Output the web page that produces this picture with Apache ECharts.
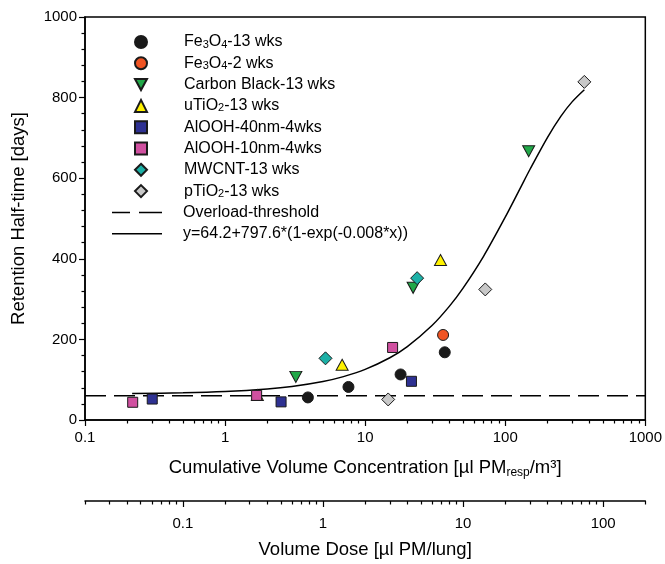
<!DOCTYPE html>
<html><head><meta charset="utf-8">
<script src="https://cdn.jsdelivr.net/npm/echarts@6/dist/echarts.min.js"></script>
<style>html,body{margin:0;padding:0;background:#fff}#c{width:665px;height:564px}</style>
</head><body><div id="c"></div>
<script>
// ---- data (x: cumulative volume concentration, y: retention half-time) ----
const fe3o4_13 = [[3.9,56],[7.6,82],[17.9,113],[37,168]];
const fe3o4_2 = [[36,211]];
const carbonBlack = [[3.2,107],[22,328],[147,667]];
const uTiO2 = [[1.7,62],[6.85,137],[34.5,397]];
const alooh40 = [[0.302,52],[2.51,45],[21.4,96]];
const alooh10 = [[0.219,44],[1.68,61],[15.7,180]];
const mwcnt = [[5.21,153],[23.5,352]];
const pTiO2 = [[14.6,51],[72,324],[367,839]];
const thresholdX = [0.1, 1000];
const thresholdY = [60, 60];
const fitX = [0.217,0.5,1,2,3,5,7,10,15,20,30,40,50,70,100,130,150,200,250,300,367];
const fitY = [65.6,67.4,70.6,76.9,83.1,95.5,107.6,125.5,154.4,182.1,234.4,282.6,327.2,406.2,503.4,579.9,621.6,700.8,753.9,789.4,819.5];
const xMajor = [0.1,1,10,100,1000];
const xMinor = [0.2,0.3,0.4,0.5,0.6,0.7,0.8,0.9,2,3,4,5,6,7,8,9,20,30,40,50,60,70,80,90,200,300,400,500,600,700,800,900];
const doseMajor = [0.1,1,10,100];
const doseMinor = [0.02,0.03,0.04,0.05,0.06,0.07,0.08,0.09,0.2,0.3,0.4,0.5,0.6,0.7,0.8,0.9,2,3,4,5,6,7,8,9,20,30,40,50,60,70,80,90,200];

const FONT = 'Liberation Sans, Arial, sans-serif';
const triDown = 'path://M0,0L12,0L6,11Z';
const dashIcon = 'path://M0,0H18V1.5H0Z M27,0H50V1.5H27Z';
const solidIcon = 'path://M0,0H50V1.5H0Z';
const legendRich = {
  n: {fontSize: 16, fontFamily: FONT, color: '#000', lineHeight: 16, verticalAlign: 'bottom'},
  s: {fontSize: 11, fontFamily: FONT, color: '#000', lineHeight: 2, verticalAlign: 'bottom'}
};
const legendLabels = {
  'Fe3O4-13 wks': '{n|Fe}{s|3}{n|O}{s|4}{n|-13 wks}',
  'Fe3O4-2 wks': '{n|Fe}{s|3}{n|O}{s|4}{n|-2 wks}',
  'Carbon Black-13 wks': '{n|Carbon Black-13 wks}',
  'uTiO2-13 wks': '{n|uTiO}{s|2}{n|-13 wks}',
  'AlOOH-40nm-4wks': '{n|AlOOH-40nm-4wks}',
  'AlOOH-10nm-4wks': '{n|AlOOH-10nm-4wks}',
  'MWCNT-13 wks': '{n|MWCNT-13 wks}',
  'pTiO2-13 wks': '{n|pTiO}{s|2}{n|-13 wks}',
  'Overload-threshold': '{n|Overload-threshold}',
  'y=64.2+797.6*(1-exp(-0.008*x))': '{n|y=64.2+797.6*(1-exp(-0.008*x))}'
};
function sc(name, data, symbol, size, color) {
  return {type:'scatter', name, data, symbol, symbolSize:size, xAxisIndex:0, yAxisIndex:0,
    itemStyle:{color, borderColor:'#1a1a1a', borderWidth:1, opacity:1}, z:3};
}
const chart = echarts.init(document.getElementById('c'), null, {renderer:'canvas'});
const axisLineStyle = {color:'#000', width:1.5};
chart.setOption({
  animation:false,
  backgroundColor:'#fff',
  grid:{left:85, right:19, top:17, bottom:144, show:true, borderColor:'#000', borderWidth:1.5, backgroundColor:'transparent'},
  legend:[
    {orient:'vertical', left:134, top:34, padding:0, itemWidth:12, itemHeight:12, itemGap:5.3,
     data:['Fe3O4-13 wks','Fe3O4-2 wks','Carbon Black-13 wks','uTiO2-13 wks','AlOOH-40nm-4wks','AlOOH-10nm-4wks','MWCNT-13 wks','pTiO2-13 wks'],
     formatter:n=>legendLabels[n], textStyle:{padding:[0,0,0,32], rich:legendRich, fontSize:16, fontFamily:FONT}},
    {orient:'vertical', left:112, top:204.5, padding:0, itemWidth:50, itemHeight:12, itemGap:5.3,
     data:[{name:'Overload-threshold', icon:dashIcon, itemStyle:{color:'#000', borderWidth:0}},
           {name:'y=64.2+797.6*(1-exp(-0.008*x))', icon:solidIcon, itemStyle:{color:'#000', borderWidth:0}}],
     formatter:n=>legendLabels[n], textStyle:{padding:[0,0,0,16], rich:legendRich, fontSize:16, fontFamily:FONT}}
  ],
  xAxis:[
    {type:'log', logBase:10, min:0.1, max:1000, gridIndex:0, position:'bottom',
     axisLine:{lineStyle:axisLineStyle}, axisTick:{length:6, lineStyle:{color:'#000', width:1.2}, customValues:xMajor},
     axisLabel:{customValues:xMajor, fontSize:15, fontFamily:FONT, color:'#000', margin:10, formatter:v=>String(v)},
     splitLine:{show:false},
     name:'Cumulative Volume Concentration [µl PM{s|resp}/m³]', nameLocation:'middle', nameGap:36,
     nameTextStyle:{fontSize:18.5, fontFamily:FONT, color:'#000', rich:{s:{fontSize:12, fontFamily:FONT, color:'#000', padding:[11,0,0,0]}}}},
    {type:'log', logBase:10, min:0.1, max:1000, gridIndex:0, position:'bottom',
     axisLine:{show:false}, axisTick:{length:3.5, lineStyle:{color:'#000', width:1.2}, customValues:xMinor},
     axisLabel:{show:false}, splitLine:{show:false}},
    {type:'log', logBase:10, min:0.02, max:200, gridIndex:0, position:'bottom', offset:81,
     axisLine:{lineStyle:axisLineStyle}, axisTick:{length:6, lineStyle:{color:'#000', width:1.2}, customValues:doseMajor},
     axisLabel:{customValues:doseMajor, fontSize:15, fontFamily:FONT, color:'#000', margin:15, formatter:v=>String(v)},
     splitLine:{show:false},
     name:'Volume Dose [µl PM/lung]', nameLocation:'middle', nameGap:39,
     nameTextStyle:{fontSize:18.5, fontFamily:FONT, color:'#000'}},
    {type:'log', logBase:10, min:0.02, max:200, gridIndex:0, position:'bottom', offset:81,
     axisLine:{show:false}, axisTick:{length:3.5, lineStyle:{color:'#000', width:1.2}, customValues:doseMinor},
     axisLabel:{show:false}, splitLine:{show:false}}
  ],
  yAxis:[{type:'value', min:0, max:1000, interval:200,
     axisLine:{show:true, lineStyle:axisLineStyle}, axisTick:{show:true, length:6, lineStyle:{color:'#000', width:1.2}},
     minorTick:{show:true, splitNumber:5, length:3.5, lineStyle:{color:'#000', width:1.2}},
     axisLabel:{fontSize:15, fontFamily:FONT, color:'#000', margin:8, formatter:v=>String(v)},
     splitLine:{show:false},
     name:'Retention Half-time [days]', nameLocation:'middle', nameGap:57,
     nameTextStyle:{fontSize:18.5, fontFamily:FONT, color:'#000'}}],
  series:[
    sc('Fe3O4-13 wks', fe3o4_13, 'circle', 11, '#1a1a1a'),
    sc('Fe3O4-2 wks', fe3o4_2, 'circle', 11, '#f05423'),
    sc('Carbon Black-13 wks', carbonBlack, triDown, [12,11], '#21a848'),
    sc('uTiO2-13 wks', uTiO2, 'triangle', [12,11], '#fff200'),
    sc('AlOOH-40nm-4wks', alooh40, 'rect', 10, '#2e3192'),
    sc('AlOOH-10nm-4wks', alooh10, 'rect', 10, '#d050a0'),
    sc('MWCNT-13 wks', mwcnt, 'diamond', 13, '#1cb0a6'),
    sc('pTiO2-13 wks', pTiO2, 'diamond', 13, '#c8c8c8'),
    {type:'line', name:'Overload-threshold', xAxisIndex:0, yAxisIndex:0, symbol:'none', showSymbol:false,
     data:thresholdX.map((x,i)=>[x, thresholdY[i]]), lineStyle:{color:'#000', width:1.5, type:[21,8]}, itemStyle:{color:'#000'}, z:2},
    {type:'line', name:'y=64.2+797.6*(1-exp(-0.008*x))', xAxisIndex:0, yAxisIndex:0, symbol:'none', showSymbol:false, smooth:0.3,
     data:fitX.map((x,i)=>[x, fitY[i]]), lineStyle:{color:'#000', width:1.5}, itemStyle:{color:'#000'}, z:2}
  ]
});
</script>
</body></html>
